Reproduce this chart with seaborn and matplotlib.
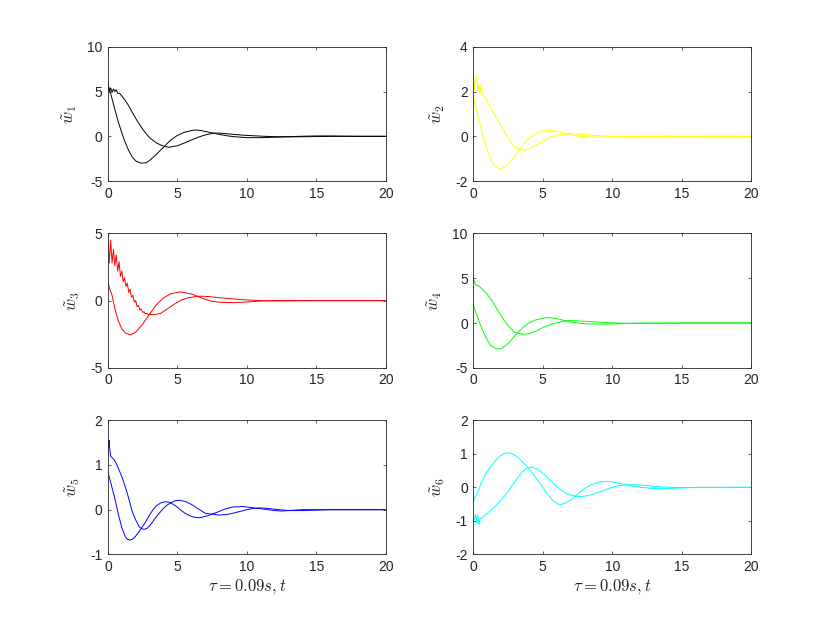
import matplotlib
matplotlib.use("Agg")
import matplotlib.pyplot as plt
import seaborn as sns

# stile simile a MATLAB: tick verso l'interno, box chiuso
sns.set_style("ticks", {"xtick.direction": "in", "ytick.direction": "in"})
plt.rcParams['font.family'] = ['Liberation Sans', 'DejaVu Sans']
plt.rcParams['mathtext.fontset'] = 'cm'
plt.rcParams['axes.unicode_minus'] = False

# --- dati (t, w) per ogni pannello, due curve ciascuno ---
t1a = [0, 0.25, 0.5, 0.75, 1.0, 1.25, 1.5, 1.75, 2.0, 2.4, 2.75, 3.0, 3.5, 4.0, 4.5, 5.0, 5.5, 6.2, 6.5, 7.0,
       7.5, 8.0, 8.5, 9.0, 10, 11, 12, 13, 14, 15, 16, 17, 18, 20]
w1a = [5.8, 4.5, 3.0, 1.6, 0.4, -0.7, -1.6, -2.3, -2.75, -3.0, -2.95, -2.7, -2.0, -1.22, -0.45, 0.1, 0.45, 0.7,
       0.68, 0.55, 0.38, 0.22, 0.08, -0.03, -0.15, -0.15, -0.1, -0.04, 0.01, 0.04, 0.04, 0.02, 0.0, 0.0]
t1b = [0, 0.1, 0.2, 0.3, 0.4, 0.5, 0.6, 0.7, 0.85, 1.0, 1.25, 1.5, 1.75, 2.0, 2.25, 2.5, 2.75, 3.0, 3.5, 4.0,
       4.4, 5.0, 5.5, 6.0, 6.5, 7.0, 7.6, 8.0, 8.5, 9.0, 10, 11, 12, 13, 14, 15, 16, 18, 20]
w1b = [5.9, 5.0, 5.4, 4.9, 5.3, 5.0, 5.2, 4.8, 4.8, 4.5, 4.0, 3.4, 2.7, 2.0, 1.4, 0.8, 0.3, -0.15, -0.75, -1.1,
       -1.22, -1.05, -0.75, -0.42, -0.1, 0.15, 0.35, 0.36, 0.3, 0.22, 0.1, 0.02, -0.04, -0.06, -0.05, -0.03,
       -0.01, 0.0, 0.0]

t2a = [0, 0.25, 0.5, 0.75, 1.0, 1.25, 1.5, 1.9, 2.25, 2.5, 3.0, 3.3, 3.5, 4.0, 4.5, 5.0, 5.4, 6.0, 6.5, 7.0,
       7.5, 8, 9, 10, 12, 15, 20]
w2a = [1.8, 1.1, 0.5, -0.1, -0.6, -1.0, -1.3, -1.45, -1.38, -1.25, -0.88, -0.63, -0.45, -0.1, 0.12, 0.25, 0.28,
       0.23, 0.14, 0.06, 0.01, -0.02, -0.04, -0.03, 0.0, 0.01, 0.0]
t2b = [0, 0.08, 0.16, 0.24, 0.32, 0.4, 0.48, 0.56, 0.64, 0.75, 1.0, 1.5, 2.0, 2.5, 3.0, 3.6, 4.0, 4.5, 5.0, 5.5,
       6.0, 6.5, 7.0, 8.0, 9.0, 10, 11, 12, 14, 20]
w2b = [2.8, 2.1, 2.5, 2.7, 2.0, 2.3, 1.9, 2.3, 1.95, 1.8, 1.55, 1.0, 0.47, -0.05, -0.5, -0.63, -0.56, -0.4, -0.2,
       -0.05, 0.05, 0.1, 0.12, 0.08, 0.03, 0.0, -0.02, -0.02, 0.0, 0.0]

t3a = [0, 0.15, 0.3, 0.5, 0.75, 1.0, 1.25, 1.6, 2.0, 2.5, 3.0, 3.5, 4.0, 4.5, 5.2, 6.0, 6.5, 7.0, 7.5, 8, 9, 10,
       11, 12, 13, 15, 20]
w3a = [1.4, 0.8, 0.4, -0.6, -1.5, -2.1, -2.4, -2.55, -2.35, -1.75, -1.0, -0.3, 0.2, 0.5, 0.65, 0.5, 0.3, 0.1,
       -0.05, -0.12, -0.15, -0.1, -0.03, 0.0, 0.02, 0.0, 0.0]
t3b = [0, 0.1, 0.2, 0.3, 0.4, 0.5, 0.6, 0.7, 0.8, 0.9, 1.0, 1.1, 1.2, 1.3, 1.4, 1.5, 1.6, 1.7, 1.8, 1.9,
       2.0, 2.1, 2.2, 2.3, 2.4, 2.5, 2.6, 2.7, 2.8, 2.9, 3.0, 3.3, 3.8, 4.3, 4.8, 5.3, 5.8, 6.5, 7.0, 7.5,
       8, 9, 10, 11, 12, 13, 15, 20]
w3b = [4.9, 2.8, 4.5, 2.8, 3.8, 2.6, 3.4, 2.2, 2.9, 1.8, 2.2, 1.4, 1.7, 1.05, 1.3, 0.6, 0.85, 0.25, 0.4, -0.1,
       0.0, -0.45, -0.35, -0.7, -0.62, -0.88, -0.82, -0.98, -0.95, -1.03, -1.02, -1.05, -0.95, -0.6, -0.25, 0.05,
       0.22, 0.33, 0.32, 0.28, 0.22, 0.13, 0.05, 0.0, -0.02, -0.02, 0.0, 0.0]

t4a = [0, 0.25, 0.5, 0.75, 1.0, 1.25, 1.7, 2.0, 2.5, 3.0, 3.5, 4.0, 4.5, 5.3, 6.0, 6.5, 7.0, 7.5, 8, 9, 10, 11,
       12, 15, 20]
w4a = [2.0, 0.9, -0.2, -1.1, -1.9, -2.5, -2.9, -2.85, -2.3, -1.4, -0.6, 0.0, 0.35, 0.63, 0.5, 0.3, 0.12, 0.0,
       -0.08, -0.12, -0.1, -0.05, 0.0, 0.0, 0.0]
t4b = [0, 0.1, 0.2, 0.35, 0.5, 0.75, 1.0, 1.5, 2.0, 2.5, 3.0, 3.6, 4.0, 4.5, 5.0, 5.5, 6.0, 6.5, 6.9, 8, 9, 10,
       11, 12, 14, 20]
w4b = [5.0, 4.5, 4.2, 4.2, 4.0, 3.6, 3.2, 2.1, 0.8, -0.3, -1.05, -1.27, -1.2, -0.9, -0.5, -0.2, 0.05, 0.2, 0.28,
       0.2, 0.1, 0.02, -0.03, -0.05, -0.02, 0.0]

t5a = [0, 0.25, 0.5, 0.75, 1.0, 1.25, 1.4, 1.6, 1.75, 1.9, 2.1, 2.4, 2.7, 3.0, 3.25, 3.5, 3.8, 4.15, 4.45, 4.7,
       4.95, 5.2, 5.6, 6.0, 6.25, 6.5, 6.75, 7.0, 7.25, 7.5, 8.0, 8.5, 9.0, 9.7, 10.5, 11, 12, 12.5, 13, 14, 20]
w5a = [0.84, 0.55, 0.25, -0.1, -0.4, -0.6, -0.66, -0.68, -0.66, -0.63, -0.55, -0.42, -0.28, -0.12, 0.0, 0.09,
       0.15, 0.18, 0.16, 0.12, 0.07, 0.0, -0.09, -0.15, -0.17, -0.18, -0.17, -0.15, -0.13, -0.1, -0.04, 0.02,
       0.06, 0.07, 0.04, 0.02, -0.02, -0.03, -0.02, 0.0, 0.0]
t5b = [0, 0.05, 0.08, 0.12, 0.2, 0.3, 0.45, 0.65, 1.0, 1.25, 1.5, 1.75, 2.0, 2.25, 2.4, 2.6, 2.8, 3.0, 3.25, 3.5,
       3.75, 4.0, 4.25, 4.5, 4.85, 5.2, 5.6, 6.0, 6.25, 6.5, 6.75, 7.0, 7.25, 7.5, 7.75, 8.0, 8.5, 9.0, 9.5, 10,
       10.5, 11, 11.5, 12, 13, 14, 15, 16, 20]
w5b = [1.2, 1.45, 1.55, 1.4, 1.2, 1.16, 1.12, 1.0, 0.74, 0.51, 0.25, -0.04, -0.23, -0.38, -0.42, -0.44, -0.42,
       -0.36, -0.26, -0.15, -0.06, 0.03, 0.1, 0.15, 0.2, 0.21, 0.18, 0.12, 0.07, 0.02, -0.03, -0.08, -0.09, -0.1,
       -0.11, -0.12, -0.11, -0.08, -0.04, 0.0, 0.03, 0.04, 0.03, 0.01, -0.02, -0.02, -0.01, 0.0, 0.0]

t6a = [0, 0.1, 0.2, 0.3, 0.5, 0.75, 1.0, 1.25, 1.5, 1.75, 2.0, 2.25, 2.5, 2.75, 3.0, 3.25, 3.5, 3.75, 4.0, 4.25,
       4.5, 4.75, 5.0, 5.25, 5.5, 5.75, 6.2, 6.6, 7.0, 7.5, 8.0, 8.5, 9.0, 9.6, 10.0, 10.5, 11, 12, 13, 14, 15,
       16, 20]
w6a = [-0.46, -0.3, -0.25, -0.18, 0.05, 0.3, 0.47, 0.62, 0.75, 0.87, 0.95, 1.01, 1.03, 1.0, 0.95, 0.87, 0.77,
       0.67, 0.55, 0.42, 0.28, 0.14, 0.0, -0.15, -0.28, -0.4, -0.52, -0.48, -0.38, -0.2, -0.04, 0.08, 0.15, 0.18,
       0.16, 0.12, 0.07, 0.0, -0.04, -0.04, -0.02, 0.0, 0.0]
t6b = [0, 0.07, 0.17, 0.24, 0.32, 0.4, 0.5, 0.6, 0.8, 1.0, 1.5, 2.0, 2.5, 3.0, 3.5, 3.75, 4.0, 4.24, 4.6, 5.0,
       5.25, 5.5, 5.75, 6.0, 6.25, 6.5, 6.75, 7.0, 7.3, 7.7, 8.1, 8.5, 9.0, 9.5, 10, 10.5, 11, 12, 13, 14, 15,
       16, 20]
w6b = [-1.0, -0.93, -0.8, -1.07, -0.83, -1.12, -0.92, -0.93, -0.85, -0.78, -0.6, -0.38, -0.13, 0.17, 0.45, 0.54,
       0.59, 0.6, 0.54, 0.42, 0.33, 0.22, 0.12, 0.02, -0.06, -0.13, -0.19, -0.23, -0.26, -0.28, -0.26, -0.22,
       -0.15, -0.07, 0.0, 0.05, 0.08, 0.07, 0.03, 0.0, -0.01, -0.01, 0.0]

colori = ['#000000', '#ffff00', '#ff0000', '#00ff00', '#0000ff', '#00ffff']
etichette_y = [r'$\tilde{w}_1$', r'$\tilde{w}_2$', r'$\tilde{w}_3$',
               r'$\tilde{w}_4$', r'$\tilde{w}_5$', r'$\tilde{w}_6$']
limiti_y = [(-5, 10), (-2, 4), (-5, 5), (-5, 10), (-1, 2), (-2, 2)]
tick_y = [[-5, 0, 5, 10], [-2, 0, 2, 4], [-5, 0, 5], [-5, 0, 5, 10], [-1, 0, 1, 2], [-2, -1, 0, 1, 2]]
curve = [(t1a, w1a, t1b, w1b), (t2a, w2a, t2b, w2b), (t3a, w3a, t3b, w3b),
         (t4a, w4a, t4b, w4b), (t5a, w5a, t5b, w5b), (t6a, w6a, t6b, w6b)]

# posizioni dei subplot come nel default di MATLAB (3x2)
sinistra = [0.13, 0.5703]
basso = [0.7093, 0.4096, 0.11]
larghezza, altezza = 0.3347, 0.2157

grigio = '#262626'
fig = plt.figure(figsize=(8.3, 6.23), dpi=100)

for i in range(6):
    riga, col = divmod(i, 2)
    ax = fig.add_axes([sinistra[col], basso[riga], larghezza, altezza])
    ta, wa, tb, wb = curve[i]
    sns.lineplot(x=ta, y=wa, ax=ax, color=colori[i], linewidth=0.7, estimator=None, sort=False)
    sns.lineplot(x=tb, y=wb, ax=ax, color=colori[i], linewidth=0.7, estimator=None, sort=False)
    ax.set_xlim(0, 20)
    ax.set_ylim(*limiti_y[i])
    ax.set_xticks([0, 5, 10, 15, 20])
    ax.set_yticks(tick_y[i])
    ax.tick_params(top=True, right=True, direction='in', length=2.5, width=0.5,
                   labelsize=10, colors=grigio, pad=4)
    for s in ax.spines.values():
        s.set_linewidth(0.6)
        s.set_color(grigio)
    ax.set_ylabel(etichette_y[i], fontsize=12, color=grigio, labelpad=6)
    if riga == 2:
        ax.set_xlabel(r'$\tau = 0.09s, t$', fontsize=12, color=grigio, labelpad=2)
    else:
        ax.set_xlabel('')

fig.savefig('out.png', dpi=100)
